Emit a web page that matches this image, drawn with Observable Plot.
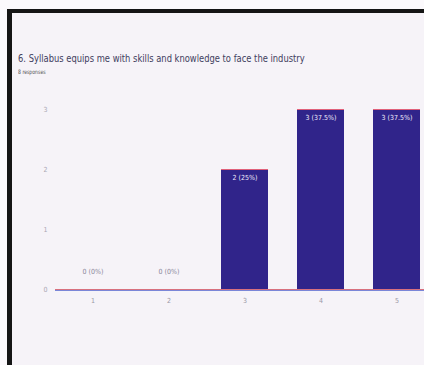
<!DOCTYPE html>
<html>
<head>
<meta charset="utf-8">
<script src="https://cdn.jsdelivr.net/npm/d3@7"></script>
<script src="https://cdn.jsdelivr.net/npm/@observablehq/plot@0.6"></script>
<style>
  html, body { margin: 0; padding: 0; width: 424px; height: 365px; overflow: hidden; background: #fbf9fc; }
  #frame { position: absolute; left: 7px; top: 9px; width: 430px; height: 352px;
           border-top: 4px solid #151515; border-left: 5px solid #151515; border-bottom: 2px solid #8a8a8a;
           background: #f6f3f8; overflow: hidden; }
  #title { position: absolute; left: 6px; top: 39px; font-family: "DejaVu Sans Condensed", "DejaVu Sans", sans-serif;
           font-stretch: condensed; font-size: 11px; color: #41405e; white-space: nowrap;
           transform: scaleX(0.845); transform-origin: left top; }
  #sub { position: absolute; left: 6px; top: 55px; font-family: "DejaVu Sans Condensed", "DejaVu Sans", sans-serif;
         font-stretch: condensed; font-size: 6px; color: #555; white-space: nowrap;
         transform: scaleX(0.85); transform-origin: left top; }
  #chart { position: absolute; left: -12px; top: 67px; }
  #chart svg { max-width: none !important; }
  #chart text { font-stretch: condensed; }
</style>
</head>
<body>
<div id="frame">
  <div id="title">6. Syllabus equips me with skills and knowledge to face the industry</div>
  <div id="sub">8 responses</div>
  <div id="chart"></div>
</div>
<script>
const categories = ["1", "2", "3", "4", "5"];
const counts = [0, 0, 2, 3, 3];
const labels = ["0 (0%)", "0 (0%)", "2 (25%)", "3 (37.5%)", "3 (37.5%)"];
const yTicks = [0, 1, 2, 3];

const data = categories.map((c, i) => ({cat: c, n: counts[i], label: labels[i]}));
const pos = data.filter(d => d.n > 0);
const zero = data.filter(d => d.n === 0);

const chart = Plot.plot({
  width: 450,
  height: 250,
  marginLeft: 55,
  marginRight: 15,
  marginTop: 29,
  marginBottom: 41,
  style: {background: "transparent", fontFamily: "'DejaVu Sans Condensed', 'DejaVu Sans', sans-serif", maxWidth: "none"},
  x: {domain: categories, paddingInner: 0.38, paddingOuter: 0.19, label: null},
  y: {domain: [0, 3], label: null},
  marks: [
    Plot.axisX({tickSize: 0, tickPadding: 9, fontSize: 7, color: "#9a98a6"}),
    Plot.axisY({ticks: yTicks, tickFormat: "d", tickSize: 0, tickPadding: 8, fontSize: 7, color: "#aaa8b4"}),
    Plot.barY(data, {x: "cat", y: "n", fill: "#30248a"}),
    Plot.tickY(pos, {x: "cat", y: "n", stroke: "#e0607a", strokeWidth: 1.2}),
    Plot.ruleY([0], {stroke: "#d8707e", strokeWidth: 1}),
    Plot.ruleY([0], {stroke: "#7a86d8", strokeWidth: 1, dy: 1}),
    Plot.text(pos, {x: "cat", y: "n", text: "label", fill: "#f2eefc", dy: 8, fontSize: 7}),
    Plot.text(zero, {x: "cat", y: "n", text: "label", fill: "#8a8898", dy: -18, fontSize: 7})
  ]
});
document.getElementById("chart").appendChild(chart);
</script>
</body>
</html>
